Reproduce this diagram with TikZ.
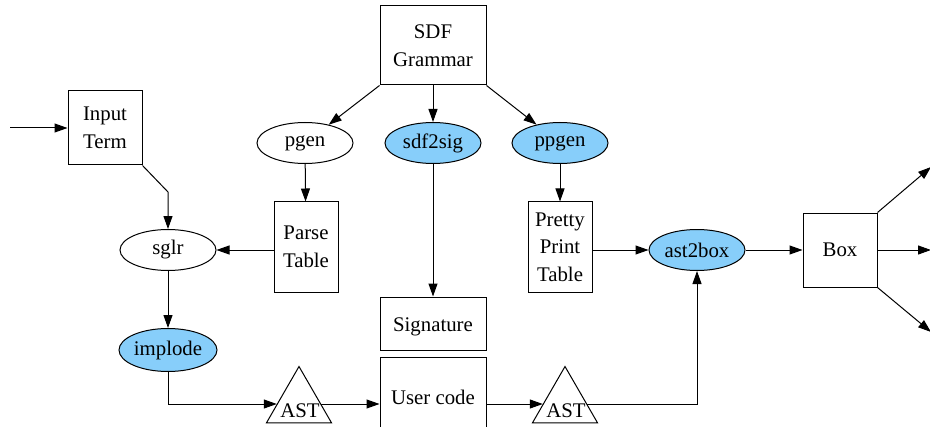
\documentclass[tikz,border=0pt]{standalone}
\usepackage{fontspec}
\setmainfont{Liberation Serif}
\usetikzlibrary{arrows.meta,shapes.geometric}
\definecolor{toolblue}{HTML}{87CEFA}
\tikzset{
  every node/.style={font=\fontsize{10.4}{13.75}\selectfont, inner sep=0pt, align=center},
  databox/.style={draw, line width=0.5pt, rectangle},
  tool/.style={draw, line width=0.5pt, ellipse, minimum width=48pt, minimum height=20.5pt},
  stdtool/.style={tool, fill=toolblue},
  tree/.style={draw, line width=0.5pt, regular polygon, regular polygon sides=3, minimum size=37.5pt},
  flow/.style={line width=0.5pt, -{Triangle[length=6.5pt,width=4.5pt]}}
}
\begin{document}
\begin{tikzpicture}[x=0.5pt,y=-0.5pt]
\useasboundingbox (0,0) rectangle (930,427);
\clip (0,0) rectangle (930,427);

% grammar and generators
\node[databox, minimum width=53pt, minimum height=39.5pt] (sdf) at (433,45.5) {SDF\\Grammar};
\node[tool] (pgen) at (305,143) {pgen};
\node[stdtool] (sdf2sig) at (433,143) {sdf2sig};
\node[stdtool] (ppgen) at (560,143) {ppgen};

% generated artefacts
\node[databox, minimum width=32pt, minimum height=45pt] (parse) at (306,247) {Parse\\Table};
\node[databox, minimum width=32pt, minimum height=45pt] (pretty) at (560,247) {Pretty\\Print\\Table};
\node[databox, minimum width=53pt, minimum height=26.5pt] (sig) at (433,323.5) {};
\node (sigt) at (433,327) {Signature};

% parsing side
\node[databox, minimum width=37pt, minimum height=37pt] (inp) at (105,128) {Input\\Term};
\node[tool] (sglr) at (168,250) {sglr};
\node[stdtool, minimum width=49pt, minimum height=21.5pt] (implode) at (168,350) {implode};

% user code and trees
\node[databox, minimum width=53pt, minimum height=47pt] (user) at (433,404) {};
\node (usert) at (433,397) {User code};
\node[tree] (ast1) at (299,404) {};
\node (ast1t) at (300,411) {AST};
\node[tree] (ast2) at (565,404) {};
\node (ast2t) at (566,411) {AST};

% pretty printing side
\node[stdtool] (ast2box) at (697,250) {ast2box};
\node[databox, minimum width=37pt, minimum height=37pt] (box) at (840,250) {Box};

% free ends
\coordinate (src) at (10,128);
\coordinate (bend) at (168,192);
\coordinate (outA) at (931,167);
\coordinate (outB) at (931,250);
\coordinate (outC) at (931,332);

% connections
\draw[flow] (src) -- (inp.west);
\draw[flow] (inp.south east) -- (bend) -- (sglr.north);
\draw[flow] (sglr.east -| parse.west) -- (sglr.east);
\draw[flow] (sglr) -- (implode);
\draw[flow] (implode.south) |- (ast1);
\draw[flow] (ast1) -- (user);
\draw[flow] (user) -- (ast2);
\draw[flow] (ast2) -| (ast2box.south);

\draw[flow] (sdf.south west) -- (pgen);
\draw[flow] (sdf.south) -- (sdf2sig);
\draw[flow] (sdf.south east) -- (ppgen);
\draw[flow] (pgen) -- (parse);
\draw[flow] (sdf2sig) -- (sig);
\draw[flow] (ppgen) -- (pretty);

\draw[flow] (ast2box.west -| pretty.east) -- (ast2box.west);
\draw[flow] (ast2box) -- (box);
\draw[flow] (box.north east) -- (outA);
\draw[flow] (box.east) -- (outB);
\draw[flow] (box.south east) -- (outC);
\end{tikzpicture}
\end{document}
